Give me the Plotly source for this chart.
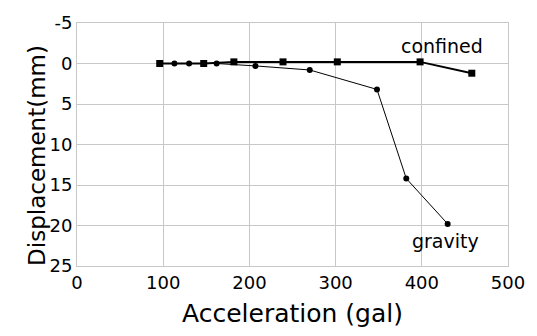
import plotly.graph_objects as go

confined_x = [96, 147, 182, 239, 302, 398, 458]
confined_y = [0.0, 0.0, -0.2, -0.2, -0.2, -0.2, 1.2]

gravity_x = [96, 113, 130, 147, 162, 207, 270, 348, 382, 430]
gravity_y = [0.0, 0.0, 0.0, 0.0, 0.0, 0.3, 0.8, 3.2, 14.2, 19.8]

x_ticks = [0, 100, 200, 300, 400, 500]
y_ticks = [-5, 0, 5, 10, 15, 20, 25]

FONT = "DejaVu Sans"

fig = go.Figure()
fig.add_trace(go.Scatter(
    x=gravity_x, y=gravity_y, mode="lines+markers", name="gravity",
    line=dict(color="black", width=1),
    marker=dict(symbol="circle", size=6, color="black"),
))
fig.add_trace(go.Scatter(
    x=confined_x, y=confined_y, mode="lines+markers", name="confined",
    line=dict(color="black", width=2),
    marker=dict(symbol="square", size=7, color="black"),
))

fig.add_annotation(x=423, y=-2.1, text="confined", showarrow=False,
                   font=dict(family=FONT, size=19, color="black"))
fig.add_annotation(x=427, y=21.9, text="gravity", showarrow=False,
                   font=dict(family=FONT, size=19, color="black"))

# y-axis title placed as a rotated annotation (sits slightly below plot centre)
fig.add_annotation(xref="paper", yref="paper", x=0, y=(266 - 155) / 245,
                   xshift=-55, text="Displacement(mm)", textangle=-90,
                   showarrow=False, font=dict(family=FONT, size=23, color="black"))

fig.update_layout(
    width=537, height=336,
    margin=dict(l=77, r=20, t=21, b=70),
    paper_bgcolor="white", plot_bgcolor="white",
    showlegend=False,
    font=dict(family=FONT, color="black"),
    xaxis=dict(
        range=[0, 500], tickvals=x_ticks, ticktext=[str(v) for v in x_ticks],
        showgrid=True, gridcolor="#c8c8c8", gridwidth=1,
        showline=True, linecolor="#c8c8c8", linewidth=1, mirror=True,
        zeroline=False, ticks="", tickfont=dict(family=FONT, size=18),
        title=dict(text="Acceleration (gal)", font=dict(family=FONT, size=25), standoff=12),
    ),
    yaxis=dict(
        range=[25, -5], tickvals=y_ticks, ticktext=[str(v) for v in y_ticks],
        showgrid=True, gridcolor="#c8c8c8", gridwidth=1,
        showline=True, linecolor="#c8c8c8", linewidth=1, mirror=True,
        zeroline=False, ticks="", tickfont=dict(family=FONT, size=18),
    ),
)

fig.write_html("out.html")
